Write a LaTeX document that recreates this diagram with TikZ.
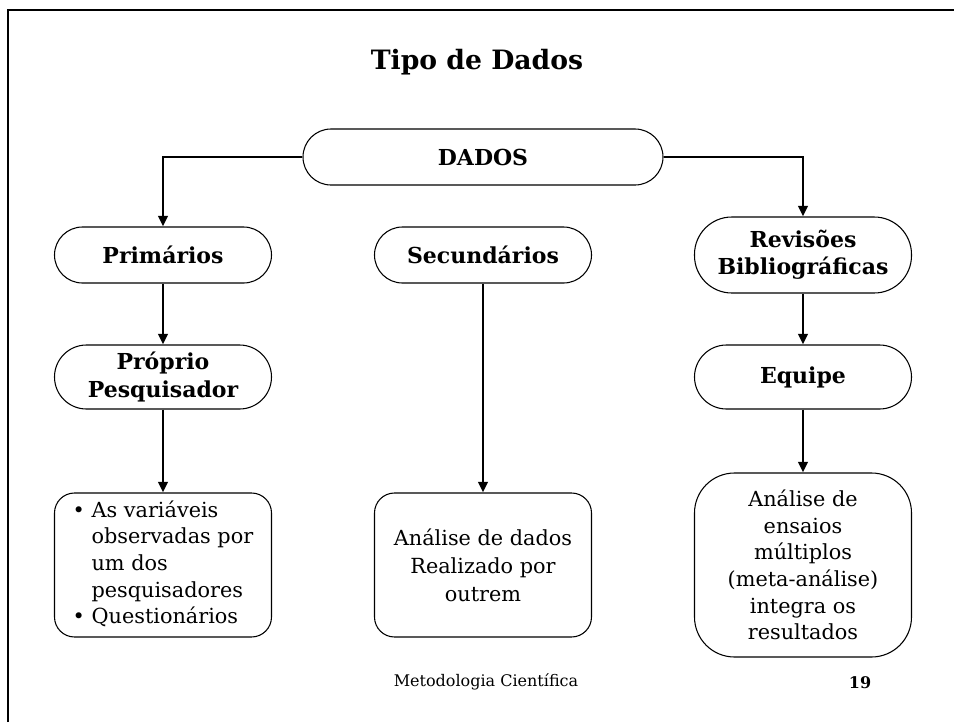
\documentclass[tikz,border=0pt]{standalone}
\usepackage{fontspec}
\setmainfont{DejaVu Serif}
\usetikzlibrary{arrows.meta}
\begin{document}
\begin{tikzpicture}[x=0.75pt,y=-0.75pt,
  pill/.style={draw,line width=0.8pt,rounded corners=21pt,minimum width=162.75pt,
    minimum height=42pt,align=center,inner sep=2pt,font=\fontsize{16.5}{20.5}\selectfont\bfseries},
  txtbox/.style={draw,line width=0.8pt,rounded corners=15pt,minimum width=162.75pt,
    minimum height=108pt,align=center,inner sep=2pt,font=\fontsize{15.6}{20}\selectfont},
  link/.style={line width=2pt,-{Triangle[length=8pt,width=7pt]}}]
  \useasboundingbox (0,0) rectangle (954,722);
  % page frame
  \draw[line width=2.2pt] (8,722) -- (8,10) -- (954,10);
  \node[font=\fontsize{20}{24}\selectfont\bfseries] (title) at (477,62) {Tipo de Dados};
  % top level
  \node[pill,minimum width=270pt] (dados) at (483,157) {DADOS};
  % second level
  \node[pill] (prim) at (163,255) {Primários};
  \node[pill] (sec) at (483,255) {Secundários};
  \node[pill,minimum height=57pt,rounded corners=28pt] (rev) at (803,255) {Revisões\\Bibliográficas};
  % third level
  \node[pill,minimum height=48pt,rounded corners=24pt] (prop) at (163,377) {Próprio\\Pesquisador};
  \node[pill,minimum height=48pt,rounded corners=24pt] (equipe) at (803,377) {Equipe};
  % bottom boxes
  \node[txtbox] (obs) at (163,565) {%
    \begin{tabular}{@{}l@{\ }l@{}}
      • & As variáveis\\
        & observadas por\\
        & um dos\\
        & pesquisadores\\
      • & Questionários
    \end{tabular}};
  \node[txtbox,font=\fontsize{15.6}{21}\selectfont] (analise) at (483,565) {Análise de dados\\Realizado por\\outrem};
  \node[txtbox,minimum height=138pt,rounded corners=30pt] (meta) at (803,565)
    {Análise de\\ensaios\\múltiplos\\(meta-análise)\\integra os\\resultados};
  % connectors
  \draw[link] (dados.west) -| (prim.north);
  \draw[link] (dados.east) -| (rev.north);
  \draw[link] (prim) -- (prop);
  \draw[link] (prop) -- (obs);
  \draw[link] (sec) -- (analise);
  \draw[link] (rev) -- (equipe);
  \draw[link] (equipe) -- (meta);
  % footer
  \node[font=\fontsize{12}{14}\selectfont] (foot) at (486,682) {Metodologia Científica};
  \node[font=\fontsize{12}{14}\selectfont\bfseries] (page) at (860,683) {19};
\end{tikzpicture}
\end{document}
